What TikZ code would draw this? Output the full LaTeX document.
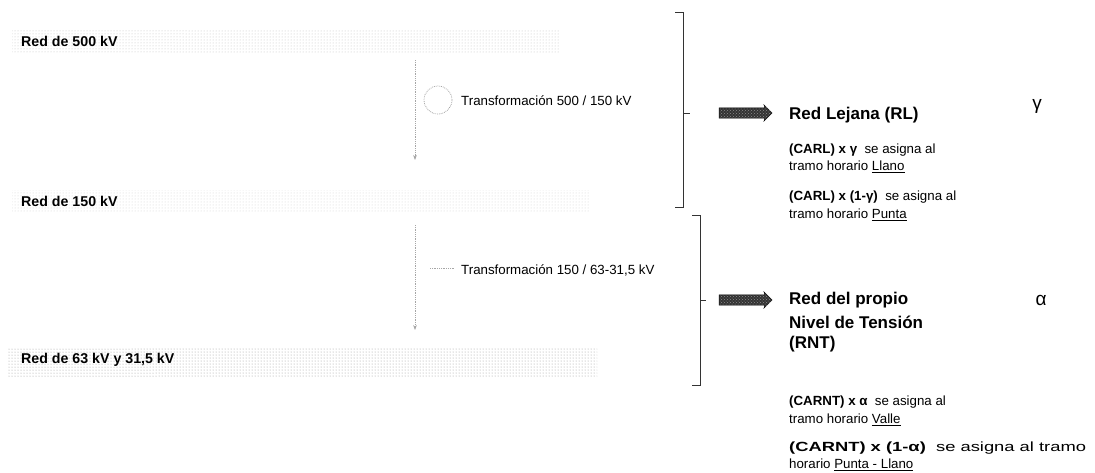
\documentclass[tikz,border=0pt]{standalone}
\usepackage{fontspec}
\usepackage{graphicx}
\setmainfont{Liberation Sans}
\usetikzlibrary{arrows.meta,positioning,shapes.arrows,patterns}
\tikzset{
  net/.style   ={anchor=west,font=\fontsize{14.2}{16}\selectfont\bfseries,inner sep=1pt},
  trafo/.style ={anchor=west,font=\fontsize{13.3}{16}\selectfont,inner sep=1pt},
  band/.style  ={pattern=dots,pattern color=black!25},
  faint/.style ={draw=black!35,densely dotted,line width=.8pt},
  brak/.style  ={draw=black!80,line width=.9pt},
  fat/.style   ={single arrow,draw=black,fill=black!80,minimum height=53pt,inner sep=5pt,
                 single arrow head extend=3pt,single arrow head indent=1pt,
                 postaction={pattern=crosshatch dots,pattern color=black!45}},
  head/.style  ={anchor=west,font=\fontsize{17}{20}\selectfont\bfseries,inner sep=1pt},
  note/.style  ={anchor=west,font=\fontsize{13.3}{16}\selectfont,inner sep=1pt},
  greek/.style ={font=\fontsize{19}{20}\selectfont,inner sep=1pt},
}
\begin{document}
\begin{tikzpicture}[x=1pt,y=-1pt]
  \useasboundingbox (0,0) rectangle (1095,472);
  % networks
  \fill[band] (12,30) rectangle (560,53);
  \fill[band,pattern color=black!18] (12,190) rectangle (590,212);
  \fill[band,pattern color=black!40] (8,347) rectangle (597,376);
  % transformers
  \draw[faint,-{Stealth[length=5pt]}] (415,60) -- (415,160);
  \draw[faint] (438,100) circle (14pt);
  \draw[faint,-{Stealth[length=5pt]}] (415,225) -- (415,330);
  \draw[faint] (430,268) -- (455,268);
  \node[net] (n500) at (20,41) {Red de 500 kV};
  \node[net] (n150) at (20,201) {Red de 150 kV};
  \node[net] (n63) at (20,360) {Red de 63 kV y 31,5 kV};
  \node[trafo] (t1) at (460,101) {Transformación 500 / 150 kV};
  \node[trafo] (t2) at (460,270) {Transformación 150 / 63-31,5 kV};
  % brackets
  \draw[brak] (675,12) -- (683,12) -- (683,207) -- (675,207);
  \draw[brak] (683,113) -- (690,113);
  \draw[brak] (692,215) -- (700,215) -- (700,385) -- (692,385);
  \draw[brak] (700,300) -- (706,300);
  \node[fat] (a1) at (743,113) {};
  \node[fat] (a2) at (743,300) {};
  % far network
  \node[head] (rl) at (788,115) {Red Lejana (RL)};
  \node[greek] (g) at (1037,106) {γ};
  \node[note] (c1) at (788,150) {\textbf{(CARL) x γ}\ \ se asigna al};
  \node[note] (c2) at (788,167) {tramo horario \underline{Llano}};
  \node[note] (c3) at (788,197) {\textbf{(CARL) x (1-γ)}\ \ se asigna al};
  \node[note] (c4) at (788,215) {tramo horario \underline{Punta}};
  % own level
  \node[head] (rnt1) at (788,300) {Red del propio};
  \node[head] (rnt2) at (788,322) {Nivel de Tensión};
  \node[head] (rnt3) at (788,344) {(RNT)};
  \node[greek] (al) at (1041,300) {α};
  \node[note] (d1) at (788,402) {\textbf{(CARNT) x α}\ \ se asigna al};
  \node[note] (d2) at (788,420) {tramo horario \underline{Valle}};
  \node[note] (d3) at (788,448) {\scalebox{1.38}[1]{\textbf{(CARNT) x (1-α)}\ \ se asigna al tramo}};
  \node[note] (d4) at (788,465) {horario \underline{Punta - Llano}};
\end{tikzpicture}
\end{document}
